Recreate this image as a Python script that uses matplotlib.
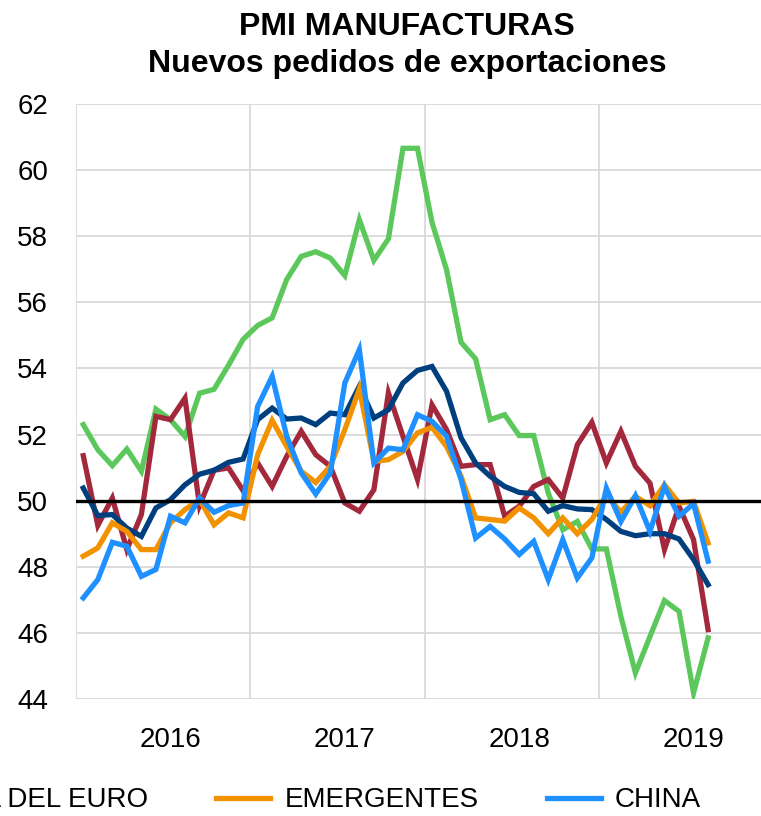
import numpy as np
import matplotlib
matplotlib.use("Agg")
from matplotlib import pyplot as plt
from matplotlib.ticker import FixedLocator, NullFormatter

# monthly values, Jan 2016 .. Aug 2019
years = ["2016", "2017", "2018", "2019"]

zona_euro = [50.38, 49.55, 49.58, 49.17, 48.92, 49.78, 50.03, 50.48, 50.8, 50.92, 51.16, 51.26,
             52.45, 52.80, 52.47, 52.5, 52.3, 52.65, 52.6, 53.46, 52.5, 52.75, 53.56, 53.94,
             54.06, 53.31, 51.9, 51.14, 50.74, 50.43, 50.25, 50.21, 49.68, 49.85, 49.75, 49.73,
             49.43, 49.07, 48.94, 49.0, 49.0, 48.84, 48.22, 47.46]

emergentes = [48.32, 48.57, 49.33, 49.07, 48.52, 48.52, 49.33, 49.73, 50.03, 49.27, 49.63, 49.48,
              51.39, 52.43, 51.64, 50.89, 50.55, 51.04, 52.15, 53.38, 51.19, 51.24, 51.49, 52.05,
              52.22, 51.64, 50.74, 49.48, 49.43, 49.38, 49.78, 49.48, 49.0, 49.48, 49.0, 49.43,
              50.18, 49.65, 50.13, 49.85, 50.48, 49.93, 49.98, 48.72]

china = [47.06, 47.61, 48.74, 48.62, 47.71, 47.92, 49.53, 49.33, 50.08, 49.65, 49.85, 49.93,
         52.85, 53.76, 51.95, 50.84, 50.2, 50.84, 53.56, 54.57, 51.14, 51.59, 51.54, 52.6,
         52.4, 51.95, 50.64, 48.87, 49.22, 48.84, 48.37, 48.77, 47.61, 48.82, 47.66, 48.27,
         50.38, 49.37, 50.15, 49.07, 50.43, 49.53, 49.91, 48.17]

verde = [52.30, 51.54, 51.06, 51.56, 50.89, 52.77, 52.45, 51.94, 53.25, 53.37, 54.1, 54.88,
         55.30, 55.53, 56.69, 57.39, 57.53, 57.34, 56.81, 58.50, 57.27, 57.92, 60.66, 60.66,
         58.42, 56.99, 54.79, 54.29, 52.45, 52.60, 51.97, 51.97, 50.23, 49.12, 49.37, 48.54,
         48.54, 46.50, 44.79, 45.89, 46.98, 46.65, 44.18, 45.85]

rojo = [51.36, 49.25, 50.08, 48.52, 49.58, 52.55, 52.45, 53.1, 49.85, 50.92, 50.99, 50.3,
        51.14, 50.43, 51.34, 52.1, 51.39, 51.04, 49.93, 49.68, 50.33, 53.26, 51.95, 50.64,
        52.9, 52.15, 51.04, 51.09, 51.09, 49.53, 49.83, 50.43, 50.64, 50.08, 51.69, 52.37,
        51.14, 52.1, 51.04, 50.53, 48.52, 49.83, 48.82, 46.1]

x = np.arange(len(zona_euro))

fig = plt.figure(figsize=(7.61, 8.16), dpi=100)
ax = fig.add_axes([76/761, 117/816, 712/761, 595/816])

lw = 3.8
ax.plot(x, verde, color='#5CC85C', lw=lw, solid_joinstyle='miter', label='_nolegend_')
ax.plot(x, rojo, color='#A3283B', lw=lw, solid_joinstyle='miter', label='_nolegend_')
ax.plot(x, zona_euro, color='#003F7D', lw=lw, solid_joinstyle='miter', label='ZONA DEL EURO')
ax.plot(x, emergentes, color='#F39200', lw=lw, solid_joinstyle='miter', label='EMERGENTES')
ax.plot(x, china, color='#1E90FF', lw=lw, solid_joinstyle='miter', label='CHINA')
ax.axhline(50, color='black', lw=2.4, zorder=5)

ax.set_ylim(44, 62)
ax.set_xlim(-0.5, 48.5)
ax.set_yticks(np.arange(44, 63, 2))
ax.yaxis.set_major_formatter(plt.FuncFormatter(lambda v, p: f"{int(v)}"))

ax.xaxis.set_major_locator(FixedLocator([11.5, 23.5, 35.5, 47.5]))
ax.xaxis.set_major_formatter(NullFormatter())
ax.xaxis.set_minor_locator(FixedLocator([6, 18, 30, 42]))
ax.set_xticklabels(years, minor=True)

ax.grid(True, color='#D9D9D9', lw=1.3)
ax.set_axisbelow(True)
for s in ax.spines.values():
    s.set_visible(False)
ax.axvline(-0.5, color='#D9D9D9', lw=1.3, zorder=0)

ax.tick_params(axis='both', which='both', length=0)
ax.tick_params(axis='y', labelsize=20, pad=20)
ax.tick_params(axis='x', which='minor', labelsize=20, pad=20)
for t in ax.get_yticklabels() + ax.get_xticklabels(minor=True):
    t.set_family('Liberation Sans')

fig.text(0.535, 0.967, 'PMI MANUFACTURAS', ha='center', va='center',
         fontsize=23, fontweight='bold', family='Liberation Sans')
fig.text(0.535, 0.922, 'Nuevos pedidos de exportaciones', ha='center', va='center',
         fontsize=23, fontweight='bold', family='Liberation Sans')

leg = fig.legend(loc='center left', bbox_to_anchor=(-0.222, 0.019), ncol=3, frameon=False,
                 prop={'family': 'Liberation Sans', 'size': 20}, handlelength=1.95,
                 columnspacing=2.45, handletextpad=0.5)

plt.savefig('out.png', dpi=100)
